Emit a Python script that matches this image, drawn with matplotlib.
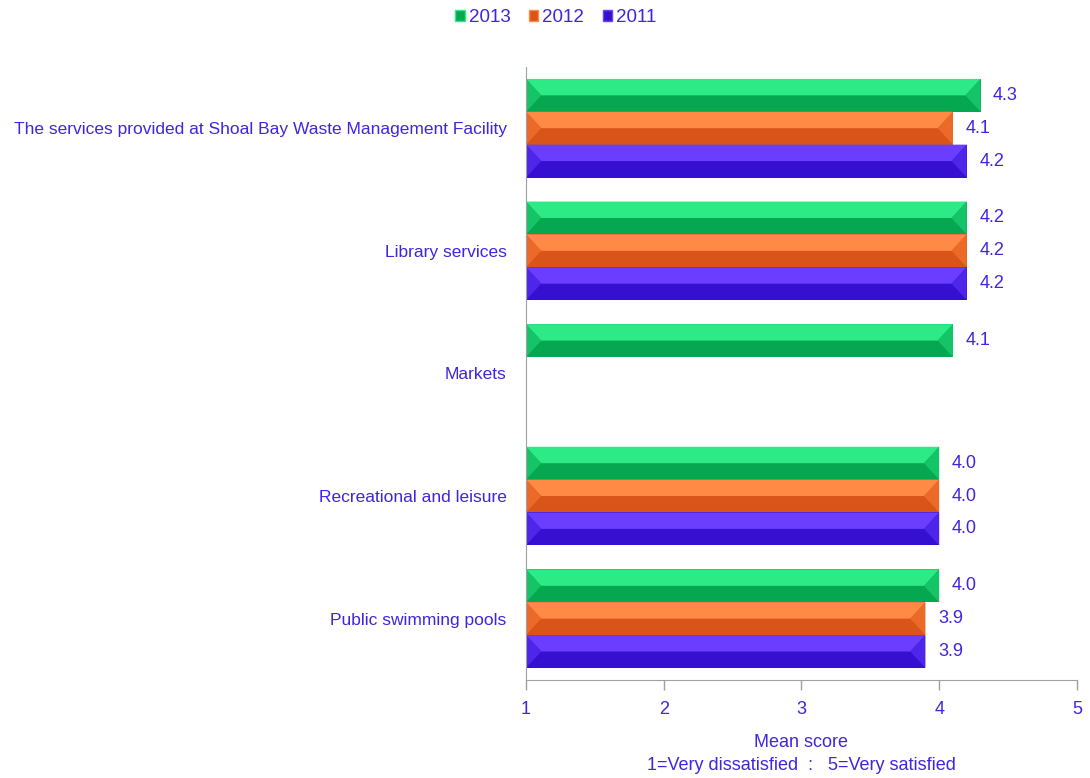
import matplotlib
matplotlib.use("Agg")
import matplotlib.pyplot as plt
import numpy as np
from matplotlib.patches import Polygon, Patch

categories = ["The services provided at Shoal Bay Waste Management Facility",
              "Library services", "Markets", "Recreational and leisure",
              "Public swimming pools"]
series = ["2013", "2012", "2011"]
score2013 = [4.3, 4.2, 4.1, 4.0, 4.0]
score2012 = [4.1, 4.2, np.nan, 4.0, 3.9]
score2011 = [4.2, 4.2, np.nan, 4.0, 3.9]
xticks = [1, 2, 3, 4, 5]

# light, dark, side colours for the bevelled bars
colors = [("#2eea86", "#05a850", "#16c468"),
          ("#ff8a45", "#d95418", "#ec6a28"),
          ("#6a3dff", "#3510d0", "#4e25ea")]
txt = "#3f25e0"

plt.rcParams["font.family"] = ["Liberation Sans", "DejaVu Sans"]

fig = plt.figure(figsize=(10.9, 7.78), dpi=100)
ax = fig.add_axes([0.4826, 0.126, 0.5054, 0.788])

h = 0.268
bev = 0.11
offsets = [-h, 0, h]
y = np.arange(len(categories))

for vals, off, (light, dark, side), name in zip([score2013, score2012, score2011], offsets, colors, series):
    vals = np.array(vals, dtype=float)
    ok = ~np.isnan(vals)
    yy = y[ok] + off
    ax.barh(yy, vals[ok] - 1, left=1, height=h, color=dark, edgecolor="none", label=name)
    for v, yc in zip(vals[ok], yy):
        top, bot, mid = yc - h / 2, yc + h / 2, yc
        ax.add_patch(Polygon([(1, top), (v, top), (v - bev, mid), (1 + bev, mid)], closed=True,
                             facecolor=light, edgecolor="none"))
        ax.add_patch(Polygon([(1, top), (1 + bev, mid), (1, bot)], closed=True,
                             facecolor=side, edgecolor="none"))
        ax.add_patch(Polygon([(v, top), (v - bev, mid), (v, bot)], closed=True,
                             facecolor=side, edgecolor="none"))
        ax.annotate(f"{v:.1f}", (v, yc), xytext=(9, 0), textcoords="offset points",
                    va="center", ha="left", fontsize=13, color=txt)

ax.set_xlim(1, 5)
ax.set_ylim(len(categories) - 0.5, -0.5)
ax.set_xticks(xticks)
ax.set_xticklabels([str(t) for t in xticks])
ax.set_yticks(y)
ax.set_yticklabels(categories)
ax.tick_params(axis="y", length=0, pad=14, labelsize=12.5, labelcolor=txt)
ax.tick_params(axis="x", length=7, width=1, color="#a0a0a0", pad=8, labelsize=13, labelcolor=txt)
for s in ["top", "right"]:
    ax.spines[s].set_visible(False)
for s in ["left", "bottom"]:
    ax.spines[s].set_color("#a0a0a0")
ax.set_xlabel("Mean score\n1=Very dissatisfied  :   5=Very satisfied", fontsize=13,
              color=txt, labelpad=12, linespacing=1.45)

handles = [Patch(facecolor=c[1], edgecolor=c[0]) for c in colors]
fig.legend(handles, series, loc="center", bbox_to_anchor=(0.51, 0.977), ncol=3,
           frameon=False, handlelength=0.5, handleheight=0.5, handletextpad=0.2,
           columnspacing=1.0, prop={"size": 13.5}, labelcolor=txt)

fig.savefig("out.png", dpi=100)
